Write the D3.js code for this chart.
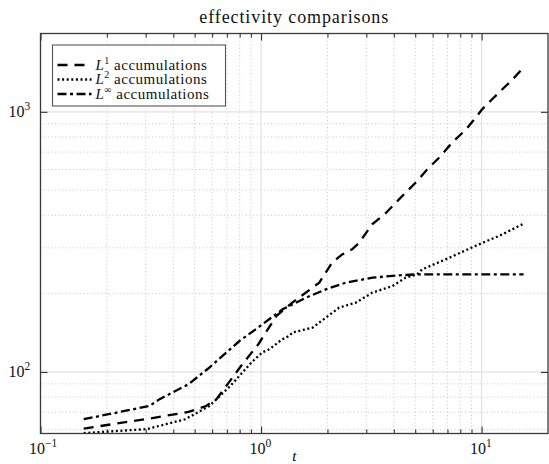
<!DOCTYPE html>
<html>
<head>
<meta charset="utf-8">
<script src="https://cdn.jsdelivr.net/npm/d3@7"></script>
<style>
  html, body { margin: 0; padding: 0; background: #fff; overflow: hidden; }
  #chart { width: 549px; height: 464px; }
  #chart svg { display: block; }
</style>
</head>
<body>
<div id="chart"></div>
<script>
// Series values (t, value)
const l1T = [0.157, 0.312, 0.469, 0.563, 0.628, 0.811, 0.972, 1.173, 1.386, 1.836, 2.10, 2.333, 2.588, 2.786, 3.19, 3.69, 4.22, 5.10, 5.66, 6.41, 7.34, 8.49, 9.52, 10.03, 11.13, 12.62, 13.57, 15.3];
const l1Y = [60.6, 66.2, 70.2, 74.0, 78.6, 105.4, 127.8, 164.1, 184.8, 220.4, 263.1, 283.1, 296.0, 314.0, 369.2, 409.3, 460.5, 541.5, 600.3, 665.9, 760.3, 855.1, 961.8, 1020, 1115, 1237, 1311, 1463];

const l2T = [0.157, 0.303, 0.453, 0.583, 0.726, 0.904, 1.014, 1.09, 1.248, 1.343, 1.386, 1.712, 1.968, 2.26, 2.69, 3.20, 3.94, 4.53, 5.10, 5.38, 6.87, 9.72, 11.97, 15.5];
const l2Y = [58.2, 60.3, 65.8, 74.0, 88.4, 108.7, 119.0, 122.2, 133.6, 137.5, 141.7, 148.1, 161.8, 176.7, 184.8, 201.8, 213.9, 230.4, 237.3, 248.0, 270.9, 309.4, 333.0, 371.5];

const lInfT = [0.157, 0.312, 0.347, 0.469, 0.583, 0.798, 0.982, 1.252, 1.60, 1.968, 2.42, 3.20, 4.22, 5.10, 15.5];
const lInfY = [65.8, 74.0, 78.6, 89.7, 104.0, 131.5, 149.4, 174.1, 193.1, 207.8, 220.4, 230.4, 235.2, 237.3, 237.3];

const seriesSup = ["1", "2", "\u221E"];
const seriesDash = ["10,7", "2,2.6", "9,3.5,3,3.5"];

const xTickValues = [0.1, 1, 10];
const xTickExps = ["\u22121", "0", "1"];
const yTickValues = [100, 1000];
const yTickExps = ["2", "3"];
const xMinor = [0.2, 0.3, 0.4, 0.5, 0.6, 0.7, 0.8, 0.9, 2, 3, 4, 5, 6, 7, 8, 9];
const yMinor = [60, 70, 80, 90, 200, 300, 400, 500, 600, 700, 800, 900];

// Set the dimensions and margins of the graph
const margin = { top: 33.5, right: 1, bottom: 30.5, left: 40.5 };
const width = 549;
const height = 464;
const innerWidth = width - margin.left - margin.right;
const innerHeight = height - margin.top - margin.bottom;
const serif = "'Liberation Serif', serif";

const x = d3.scaleLog().domain([0.1, 20]).range([0, innerWidth]);
const y = d3.scaleLog().domain([58, 2000]).range([innerHeight, 0]);

const svg = d3.select("#chart").append("svg")
  .attr("width", width)
  .attr("height", height)
  .append("g")
  .attr("transform", `translate(${margin.left},${margin.top})`);

svg.append("clipPath").attr("id", "clip")
  .append("rect").attr("width", innerWidth).attr("height", innerHeight);

// Minor grid (dotted)
svg.append("g").selectAll("line").data(xMinor).enter().append("line")
  .attr("x1", d => x(d)).attr("x2", d => x(d))
  .attr("y1", 0).attr("y2", innerHeight)
  .attr("stroke", "#c4c4c4").attr("stroke-width", 1)
  .attr("stroke-dasharray", "1,2.6");
svg.append("g").selectAll("line").data(yMinor).enter().append("line")
  .attr("y1", d => y(d)).attr("y2", d => y(d))
  .attr("x1", 0).attr("x2", innerWidth)
  .attr("stroke", "#c4c4c4").attr("stroke-width", 1)
  .attr("stroke-dasharray", "1,2.6");

// Major grid
svg.append("g").selectAll("line").data(xTickValues).enter().append("line")
  .attr("x1", d => x(d)).attr("x2", d => x(d))
  .attr("y1", 0).attr("y2", innerHeight)
  .attr("stroke", "#e2e2e2").attr("stroke-width", 1.2);
svg.append("g").selectAll("line").data(yTickValues).enter().append("line")
  .attr("y1", d => y(d)).attr("y2", d => y(d))
  .attr("x1", 0).attr("x2", innerWidth)
  .attr("stroke", "#e2e2e2").attr("stroke-width", 1.2);

// Axes (ticks only, labels drawn below with superscripts)
function styleAxis(g) {
  g.select(".domain").remove();
  g.selectAll("line").attr("stroke", "#333").attr("stroke-width", 1.1);
  g.selectAll("text").remove();
}
const xMajorBottom = d3.axisBottom(x).tickValues(xTickValues).tickSize(-7).tickFormat("");
const xMinorBottom = d3.axisBottom(x).tickValues(xMinor).tickSize(-4).tickFormat("");
const xMajorTop = d3.axisTop(x).tickValues(xTickValues).tickSize(-7).tickFormat("");
const xMinorTop = d3.axisTop(x).tickValues(xMinor).tickSize(-4).tickFormat("");
const yLeft = d3.axisLeft(y).tickValues(yTickValues).tickSize(-7).tickFormat("");
const yRight = d3.axisRight(y).tickValues(yTickValues).tickSize(-7).tickFormat("");

svg.append("g").attr("transform", `translate(0,${innerHeight})`).call(xMajorBottom).call(styleAxis);
svg.append("g").attr("transform", `translate(0,${innerHeight})`).call(xMinorBottom).call(styleAxis);
svg.append("g").call(xMajorTop).call(styleAxis);
svg.append("g").call(xMinorTop).call(styleAxis);
svg.append("g").call(yLeft).call(styleAxis);
svg.append("g").attr("transform", `translate(${innerWidth},0)`).call(yRight).call(styleAxis);

// Series lines
const series = [
  { t: l1T, v: l1Y },
  { t: l2T, v: l2Y },
  { t: lInfT, v: lInfY }
];
const line = d3.line().x(d => x(d[0])).y(d => y(d[1]));
series.forEach((s, i) => {
  svg.append("path")
    .datum(s.t.map((t, j) => [t, s.v[j]]))
    .attr("clip-path", "url(#clip)")
    .attr("fill", "none")
    .attr("stroke", "#000")
    .attr("stroke-width", 2.3)
    .attr("stroke-dasharray", seriesDash[i])
    .attr("d", line);
});

// Frame
svg.append("rect")
  .attr("width", innerWidth).attr("height", innerHeight)
  .attr("fill", "none").attr("stroke", "#3a3a3a").attr("stroke-width", 1.3);

// Tick labels
const xl = svg.append("g").selectAll("text").data(xTickValues).enter().append("text")
  .attr("x", d => x(d) - 11.5)
  .attr("y", innerHeight + 20)
  .style("font-family", serif).style("font-size", "16px").attr("fill", "#111");
xl.append("tspan").text("10");
xl.append("tspan").attr("dy", -7).style("font-size", "11.5px").text((d, i) => xTickExps[i]);

const yl = svg.append("g").selectAll("text").data(yTickValues).enter().append("text")
  .attr("x", -32)
  .attr("y", d => y(d) + 5)
  .style("font-family", serif).style("font-size", "16px").attr("fill", "#111");
yl.append("tspan").text("10");
yl.append("tspan").attr("dy", -7).style("font-size", "11.5px").text((d, i) => yTickExps[i]);

// Axis label and title
svg.append("text")
  .attr("x", innerWidth / 2).attr("y", innerHeight + 27.5)
  .attr("text-anchor", "middle")
  .style("font-family", serif).style("font-style", "italic").style("font-size", "15px")
  .text("t");

svg.append("text")
  .attr("x", innerWidth / 2).attr("y", -11)
  .attr("text-anchor", "middle")
  .style("font-family", serif).style("font-size", "18px")
  .style("letter-spacing", "0.9px").attr("fill", "#111")
  .text("effectivity comparisons");

// Legend
const legend = svg.append("g").attr("transform", "translate(12,11.5)");
legend.append("rect")
  .attr("width", 173).attr("height", 61)
  .attr("fill", "#fff").attr("stroke", "#555").attr("stroke-width", 1.1);
const legendItems = legend.selectAll(".legend-item").data(seriesSup).enter().append("g")
  .attr("class", "legend-item")
  .attr("transform", (d, i) => `translate(0, ${20 + i * 14.5})`);
legendItems.append("line")
  .attr("x1", 5).attr("x2", 39)
  .attr("stroke", "#000").attr("stroke-width", 2.3)
  .attr("stroke-dasharray", (d, i) => seriesDash[i]);
const lt = legendItems.append("text")
  .attr("x", 43).attr("y", 4.5)
  .style("font-family", serif).style("font-size", "15px")
  .style("letter-spacing", "0.5px").attr("fill", "#111");
lt.append("tspan").style("font-style", "italic").text("L");
lt.append("tspan").attr("dy", -6).style("font-size", "10px").text(d => d);
lt.append("tspan").attr("dy", 6).text(" accumulations");
</script>
</body>
</html>
